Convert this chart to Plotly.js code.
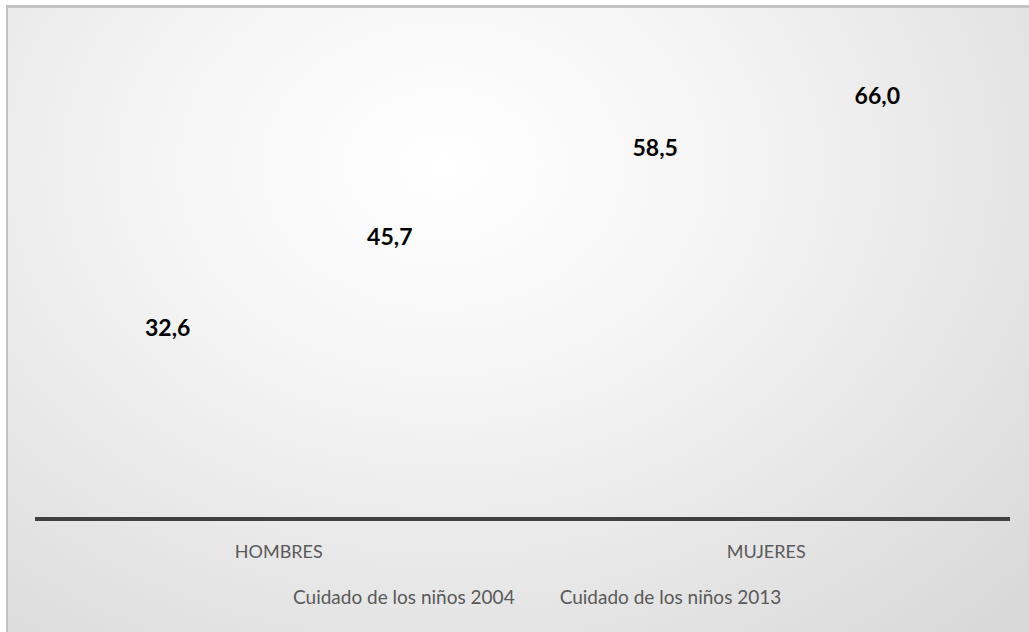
<!DOCTYPE html>
<html>
<head>
<meta charset="utf-8">
<script src="https://cdn.plot.ly/plotly-3.0.1.min.js"></script>
<style>
  html, body { margin: 0; padding: 0; width: 1029px; height: 632px; overflow: hidden; background: #ffffff; }
  #frame {
    position: absolute; left: 6px; top: 5px; width: 1060px; height: 660px;
    border-top: 3px solid #c3c3c3; border-left: 2px solid #c3c3c3;
    background: radial-gradient(ellipse 75% 95% at 41% 24%, #ffffff 0%, #f5f5f5 35%, #e6e6e6 70%, #d9d9d9 100%);
  }
  #chart { position: absolute; left: 0; top: 0; width: 1029px; height: 632px; }
</style>
</head>
<body>
<div id="frame"></div>
<div id="chart"></div>
<script>
const categories = ["HOMBRES", "MUJERES"];
const seriesNames = ["Cuidado de los niños 2004", "Cuidado de los niños 2013"];
const values2004 = [32.6, 58.5];
const values2013 = [45.7, 66.0];

const labelFont = { family: "Lato, 'DejaVu Sans', sans-serif", size: 23, color: "#000000", weight: "bold" };

function barTrace(name, vals) {
  return {
    type: "bar",
    name: name,
    x: categories,
    y: vals,
    marker: { color: "rgba(0,0,0,0)", line: { width: 0 } },
    texttemplate: "<b>%{y:.1f}</b>",
    textposition: "outside",
    cliponaxis: false,
    textfont: labelFont,
    hoverinfo: "skip"
  };
}

const data = [barTrace(seriesNames[0], values2004), barTrace(seriesNames[1], values2013)];

const layout = {
  width: 1029,
  height: 632,
  paper_bgcolor: "rgba(0,0,0,0)",
  plot_bgcolor: "rgba(0,0,0,0)",
  separators: ",.",
  font: { family: "Lato, 'Liberation Sans', sans-serif", color: "#595959", size: 18 },
  margin: { l: 35, r: 19, t: 20, b: 115 },
  barmode: "group",
  bargap: 0.089,
  bargroupgap: 0,
  showlegend: true,
  legend: {
    orientation: "h",
    x: 0.2236, xanchor: "left",
    y: -0.161, yanchor: "middle",
    font: { size: 19, color: "#595959" },
    bgcolor: "rgba(0,0,0,0)",
    itemclick: false
  },
  xaxis: {
    type: "category",
    showline: true, linecolor: "#404040", linewidth: 4,
    showgrid: false, zeroline: false, ticks: "",
    ticklabelstandoff: 15,
    tickfont: { size: 18, color: "#595959" },
    fixedrange: true
  },
  yaxis: {
    range: [7.66, 79.2],
    visible: false,
    showgrid: false, zeroline: false,
    fixedrange: true
  }
};

Plotly.newPlot("chart", data, layout, { displayModeBar: false, staticPlot: true });
</script>
</body>
</html>
